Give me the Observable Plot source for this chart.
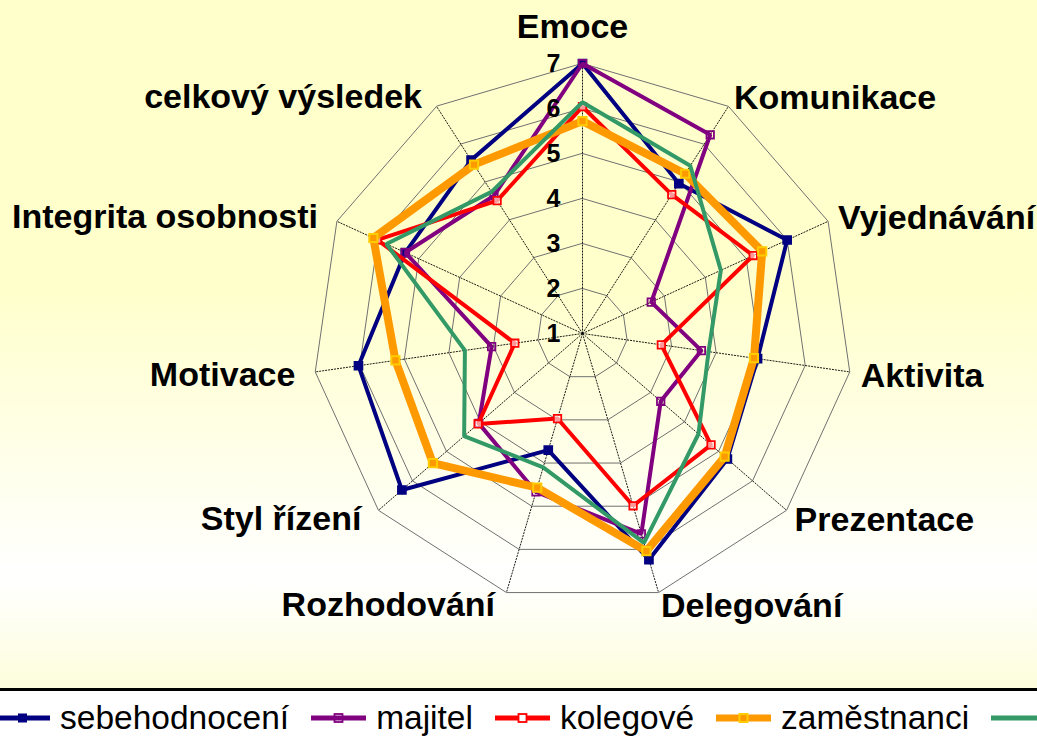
<!DOCTYPE html>
<html>
<head>
<meta charset="utf-8">
<script src="https://cdn.jsdelivr.net/npm/d3@7"></script>
<script src="https://cdn.jsdelivr.net/npm/@observablehq/plot@0.6"></script>
<style>
  html, body { margin: 0; padding: 0; background: #fff; }
  body { width: 1037px; height: 737px; overflow: hidden; position: relative; font-family: "Liberation Sans", Arial, sans-serif; }
  #chart { position: absolute; left: 0; top: 0; }
  #legend { position: absolute; left: 0; top: 688px; width: 1037px; height: 49px; border-top: 3px solid #000; box-sizing: border-box; overflow: hidden; white-space: nowrap; }
  #legend .row { position: absolute; left: -5px; top: 4px; height: 46px; display: flex; align-items: center; }
  #legend .item { display: flex; align-items: center; margin-right: 22px; font-size: 33.5px; color: #000; }
  #legend svg { margin-right: 10px; display: block; }
</style>
</head>
<body>
<div id="chart"></div>
<div id="legend"><div class="row"></div></div>
<script>
// ---- data ----
const categories = ["Emoce", "Komunikace", "Vyjednávání", "Aktivita", "Prezentace", "Delegování",
  "Rozhodování", "Styl řízení", "Motivace", "Integrita osobnosti", "celkový výsledek"];
const seriesNames = ["sebehodnocení", "majitel", "kolegové", "zaměstnanci", "zákazníci"];
const sebehodnoceni = [7.00, 4.96, 6.00, 4.93, 5.26, 6.24, 3.70, 6.31, 6.03, 5.33, 5.58];
const majitel       = [7.00, 6.25, 2.68, 3.67, 3.30, 5.64, 4.67, 4.05, 3.04, 5.33, 4.64];
const kolegove      = [6.04, 4.67, 5.17, 2.77, 4.78, 4.99, 2.97, 4.07, 2.52, 6.01, 4.51];
const zamestnanci   = [5.72, 5.22, 5.39, 4.85, 5.18, 6.04, 4.57, 5.40, 5.20, 6.11, 5.46];
const zakaznici     = [6.14, 5.43, 4.38, 3.83, 4.41, 5.85, 4.10, 4.48, 3.64, 5.79, 4.74];
const tickValues = [1, 2, 3, 4, 5, 6, 7];
const seriesColors = ["#000080", "#800080", "#FF0000", "#FF9900", "#339966"];

// ---- build tables ----
const allValues = [sebehodnoceni, majitel, kolegove, zamestnanci, zakaznici];
const vmin = tickValues[0], vmax = tickValues[tickValues.length - 1];
const n = categories.length;
const ang = i => (2 * Math.PI * i) / n;
const px = (v, i) => (v - vmin) * Math.sin(ang(i));
const py = (v, i) => (v - vmin) * Math.cos(ang(i));

const rows = [];
allValues.forEach((vals, s) => vals.forEach((v, i) => rows.push({series: seriesNames[s], s, i, v})));
const rings = tickValues.slice(1).flatMap(t => categories.map((c, i) => ({t, i})));
const spokes = categories.map((c, i) => ({c, i}));

// pixel geometry: center at (582,333), 45 px per unit
const W = 1037, H = 688, cx = 582, cy = 333, unit = 45;
const xDomain = [-cx / unit, (W - cx) / unit];
const yDomain = [-(H - cy) / unit, cy / unit];

const lineWidths = [4, 4, 4, 8, 4];
const seriesMarks = [];
[0, 1, 2, 3, 4].forEach(s => {
  const data = rows.filter(d => d.s === s);
  seriesMarks.push(Plot.line(data, {
    x: d => px(d.v, d.i), y: d => py(d.v, d.i),
    curve: "linear-closed", stroke: seriesColors[s], strokeWidth: lineWidths[s],
    strokeLinejoin: "miter"
  }));
  if (s === 0) seriesMarks.push(Plot.dot(data, {x: d => px(d.v, d.i), y: d => py(d.v, d.i), symbol: "square", r: 4.6, fill: "#000080", stroke: "#000080"}));
  if (s === 1) seriesMarks.push(Plot.dot(data, {x: d => px(d.v, d.i), y: d => py(d.v, d.i), symbol: "square", r: 4.2, fill: "none", stroke: "#800080", strokeWidth: 1.8}));
  if (s === 2) seriesMarks.push(Plot.dot(data, {x: d => px(d.v, d.i), y: d => py(d.v, d.i), symbol: "square", r: 4.2, fill: "#fff", fillOpacity: 0.6, stroke: "#FF0000", strokeWidth: 1.8}));
  if (s === 3) seriesMarks.push(Plot.dot(data, {x: d => px(d.v, d.i), y: d => py(d.v, d.i), symbol: "square", r: 4.6, fill: "#FF9900", stroke: "#FFCC00", strokeWidth: 2}));
});

const labelR = (vmax - vmin) + 12 / unit;
const rightIdx = categories.map((c, i) => i).filter(i => i > 0 && i < n / 2);
const leftIdx = categories.map((c, i) => i).filter(i => i > n / 2);

const chart = Plot.plot({
  width: W, height: H,
  marginTop: 0, marginBottom: 0, marginLeft: 0, marginRight: 0,
  x: {domain: xDomain, axis: null},
  y: {domain: yDomain, axis: null},
  style: {
    background: "linear-gradient(to bottom, #FFFFCC 0%, #FFFFCC 42%, #FFFFFF 84%, #FDFDDC 100%)",
    fontFamily: "'Liberation Sans', Arial, sans-serif",
    overflow: "visible"
  },
  marks: [
    Plot.line(rings, {x: d => px(d.t, d.i), y: d => py(d.t, d.i), z: "t", curve: "linear-closed", stroke: "#707070", strokeWidth: 1}),
    Plot.link(spokes, {x1: 0, y1: 0, x2: d => px(vmax, d.i), y2: d => py(vmax, d.i), stroke: "#000", strokeWidth: 0.9, strokeDasharray: "2,1"}),
    ...seriesMarks,
    Plot.text(tickValues, {x: 0, y: t => t - vmin, text: d => String(d), textAnchor: "end", lineAnchor: "middle", dx: -22, fontSize: 25, fontWeight: "bold", fill: "#000"}),
    Plot.text(spokes.filter(d => d.i === 0), {x: d => labelR * Math.sin(ang(d.i)), y: d => labelR * Math.cos(ang(d.i)), text: "c", textAnchor: "middle", lineAnchor: "bottom", dx: -10, dy: -14, fontSize: 34, fontWeight: "bold", fill: "#000"}),
    Plot.text(spokes.filter(d => rightIdx.includes(d.i)), {x: d => labelR * Math.sin(ang(d.i)), y: d => labelR * Math.cos(ang(d.i)), text: "c", textAnchor: "start", lineAnchor: "middle", dx: -1, dy: 2, fontSize: 34, fontWeight: "bold", fill: "#000"}),
    Plot.text(spokes.filter(d => leftIdx.includes(d.i)), {x: d => labelR * Math.sin(ang(d.i)), y: d => labelR * Math.cos(ang(d.i)), text: "c", textAnchor: "end", lineAnchor: "middle", dx: -8, dy: 1, fontSize: 34, fontWeight: "bold", fill: "#000"})
  ]
});
document.getElementById("chart").appendChild(chart);

// ---- legend ----
const row = document.querySelector("#legend .row");
const markerSpec = [
  {fill: "#000080", stroke: "#000080", sw: 1},
  {fill: "none", stroke: "#800080", sw: 1.8},
  {fill: "#fff", stroke: "#FF0000", sw: 1.8},
  {fill: "#FF9900", stroke: "#FFCC00", sw: 2},
  null
];
seriesNames.forEach((name, s) => {
  const item = document.createElement("div");
  item.className = "item";
  const sw = lineWidths[s] === 8 ? 7 : 5;
  let svg = `<svg width="55" height="20" viewBox="0 0 55 20"><line x1="0" x2="55" y1="10" y2="10" stroke="${seriesColors[s]}" stroke-width="${sw}"/>`;
  const m = markerSpec[s];
  if (m) svg += `<rect x="23.5" y="6" width="8" height="8" fill="${m.fill}" stroke="${m.stroke}" stroke-width="${m.sw}"/>`;
  svg += `</svg>`;
  item.innerHTML = svg + `<span>${name}</span>`;
  row.appendChild(item);
});
</script>
</body>
</html>
